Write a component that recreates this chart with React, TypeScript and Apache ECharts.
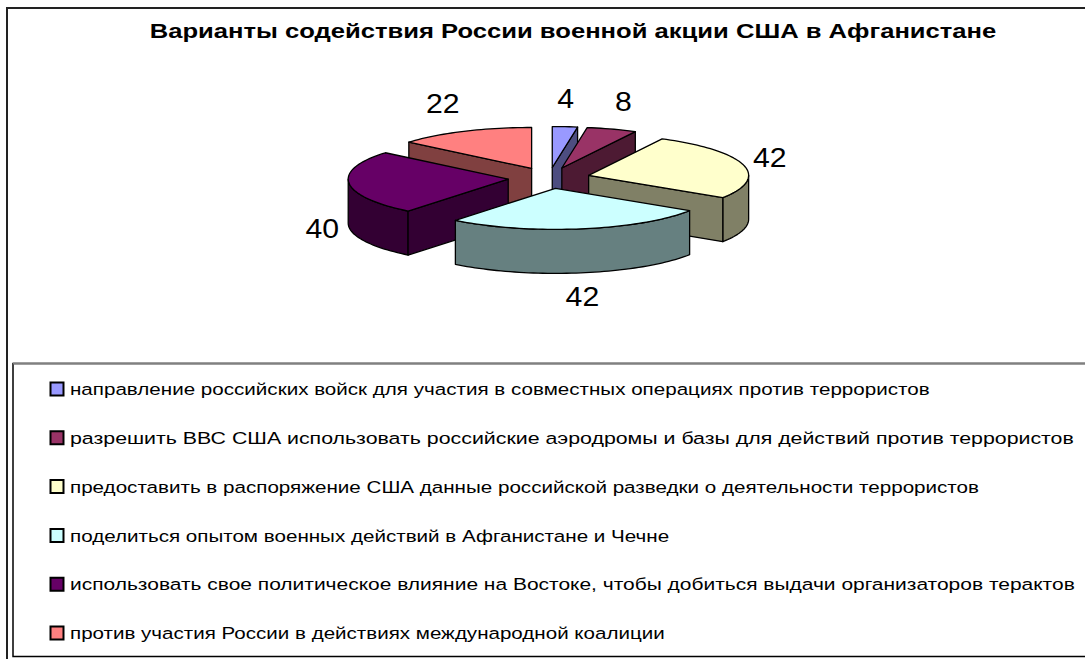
import React, { useEffect, useRef } from "react";
import * as echarts from "echarts";

const TITLE = "Варианты содействия России военной акции США в Афганистане";
const CATEGORIES = [
  "направление российских войск для участия в совместных операциях против террористов",
  "разрешить ВВС США использовать российские аэродромы и базы для действий против террористов",
  "предоставить в распоряжение США данные российской разведки о деятельности террористов",
  "поделиться опытом военных действий в Афганистане и Чечне",
  "использовать свое политическое влияние на Востоке, чтобы добиться выдачи организаторов терактов",
  "против участия России в действиях международной коалиции",
];
const VALUES = [4, 8, 42, 42, 40, 22];
const TOP_COLORS = ["#9999FF", "#993366", "#FFFFCC", "#CCFFFF", "#660066", "#FF8080"];
const SIDE_COLORS = ["#4D4D80", "#4D1A33", "#808066", "#668080", "#330033", "#804040"];

const FONT = "'Liberation Sans', Arial, sans-serif";
// right ends of legend lines in the reference layout
const LEGEND_TEXT_RIGHT = [930, 1075, 980, 670, 1075, 665];

function measure(text: string, font: string): number {
  const c = document.createElement("canvas");
  const ctx = c.getContext("2d");
  if (!ctx) return text.length * 8;
  ctx.font = font;
  return ctx.measureText(text).width;
}

export default function App() {
  const ref = useRef<HTMLDivElement>(null);

  useEffect(() => {
    document.body.style.margin = "0";
    if (!ref.current) return;
    const chart = echarts.init(ref.current, undefined, { renderer: "svg" });

    // layout
    const CX = 549;
    const CY = 178;
    const RX = 160;
    const RY = 41;
    const K = RY / RX;
    const EX = 41;
    const D = 44;
    const TAU = Math.PI * 2;
    const total = VALUES.reduce((a, b) => a + b, 0);

    const mids: number[] = [];
    let acc0 = 0;
    VALUES.forEach((v) => {
      mids.push(((acc0 + v / 2) / total) * TAU);
      acc0 += v;
    });
    const order = mids
      .map((m, i) => ({ i, d: -Math.cos(m) }))
      .sort((a, b) => a.d - b.d)
      .map((o) => o.i);
    const rank: number[] = [];
    order.forEach((idx, r) => (rank[idx] = r));

    const renderItem = (params: any, api: any) => {
      const i = params.dataIndex;
      const v = api.value(0);
      let acc = 0;
      for (let j = 0; j < i; j++) acc += VALUES[j];
      const ts = (acc / total) * TAU;
      const te = ((acc + v) / total) * TAU;
      const mid = (ts + te) / 2;
      const ox = CX + EX * Math.sin(mid);
      const oy = CY - EX * K * Math.cos(mid);
      const P = (th: number, dz = 0) => [ox + RX * Math.sin(th), oy - RY * Math.cos(th) + dz];
      const arc = (a: number, b: number, dz = 0) => {
        const n = Math.max(4, Math.ceil(Math.abs(b - a) / 0.03));
        const pts: number[][] = [];
        for (let s = 0; s <= n; s++) pts.push(P(a + ((b - a) * s) / n, dz));
        return pts;
      };
      const base = rank[i] * 10;
      const edge = { stroke: "#000", lineWidth: 1.3, lineJoin: "round" };
      const children: any[] = [];
      // outer wall
      const a = Math.max(ts, Math.PI / 2);
      const b = Math.min(te, (3 * Math.PI) / 2);
      if (b > a) {
        const pts = arc(a, b, 0).concat(arc(b, a, D));
        children.push({
          type: "polygon",
          shape: { points: pts },
          style: { fill: SIDE_COLORS[i], ...edge },
          z2: base + 1,
        });
      }
      const apexT = [ox, oy];
      const apexB = [ox, oy + D];
      if (Math.sin(ts) < -1e-6) {
        children.push({
          type: "polygon",
          shape: { points: [apexT, P(ts), P(ts, D), apexB] },
          style: { fill: SIDE_COLORS[i], ...edge },
          z2: base + 2,
        });
      }
      if (Math.sin(te) > 1e-6) {
        children.push({
          type: "polygon",
          shape: { points: [apexT, P(te), P(te, D), apexB] },
          style: { fill: SIDE_COLORS[i], ...edge },
          z2: base + 2,
        });
      }
      children.push({
        type: "polygon",
        shape: { points: [apexT].concat(arc(ts, te, 0)) },
        style: { fill: TOP_COLORS[i], ...edge },
        z2: base + 3,
      });
      // label
      const sm = Math.sin(mid);
      const cm = Math.cos(mid);
      const ep = P(mid, cm < 0 ? D : 0);
      const gap = 10;
      const lx = ep[0] + gap * sm;
      const ly = ep[1] - gap * cm - (cm > 0 ? 5 : 0);
      const align = sm > 0.3 ? "left" : sm < -0.3 ? "right" : "center";
      const valign = cm > 0.3 ? "bottom" : cm < -0.3 ? "top" : "middle";
      children.push({
        type: "text",
        x: lx,
        y: ly,
        scaleX: 1.12,
        style: {
          text: String(v),
          fontSize: 27,
          fontFamily: FONT,
          fill: "#000",
          align,
          verticalAlign: valign,
        },
        z2: 200,
      });
      return { type: "group", children };
    };

    const titleFont = `bold 21px ${FONT}`;
    const titleScale = 847 / measure(TITLE, titleFont);
    const legendFont = `17px ${FONT}`;

    const legendEls: any[] = [];
    CATEGORIES.forEach((name, i) => {
      const cy = 389.5 + i * 48.8;
      const sc = (LEGEND_TEXT_RIGHT[i] - 70) / measure(name, legendFont);
      legendEls.push({
        type: "rect",
        shape: { x: 50.5, y: cy - 7, width: 13, height: 13 },
        style: { fill: TOP_COLORS[i], stroke: "#000", lineWidth: 2 },
        z: 10,
      });
      legendEls.push({
        type: "text",
        x: 70,
        y: cy,
        scaleX: sc,
        style: {
          text: name,
          fontSize: 17,
          fontFamily: FONT,
          fill: "#000",
          align: "left",
          verticalAlign: "middle",
        },
        z: 10,
      });
    });

    chart.setOption({
      animation: false,
      backgroundColor: "#fff",
      graphic: [
        {
          type: "rect",
          shape: { x: 7, y: 8, width: 1100, height: 700 },
          style: { fill: "none", stroke: "#222", lineWidth: 2 },
          z: 1,
        },
        {
          type: "rect",
          shape: { x: 13, y: 363.5, width: 1100, height: 293 },
          style: { fill: "none", stroke: "#000", lineWidth: 1.5 },
          z: 2,
        },
        {
          type: "line",
          shape: { x1: 13, y1: 363.5, x2: 1090, y2: 363.5 },
          style: { stroke: "#808080", lineWidth: 2 },
          z: 3,
        },
        {
          type: "text",
          x: 573,
          y: 30.5,
          scaleX: titleScale,
          style: {
            text: TITLE,
            fontSize: 21,
            fontWeight: "bold",
            fontFamily: FONT,
            fill: "#000",
            align: "center",
            verticalAlign: "middle",
          },
          z: 10,
        },
        ...legendEls,
      ],
      series: [
        {
          type: "custom",
          name: "pie3d",
          coordinateSystem: "none",
          renderItem,
          data: VALUES,
          silent: true,
        },
      ],
    });

    return () => chart.dispose();
  }, []);

  return <div ref={ref} style={{ width: 1085, height: 659 }} />;
}
